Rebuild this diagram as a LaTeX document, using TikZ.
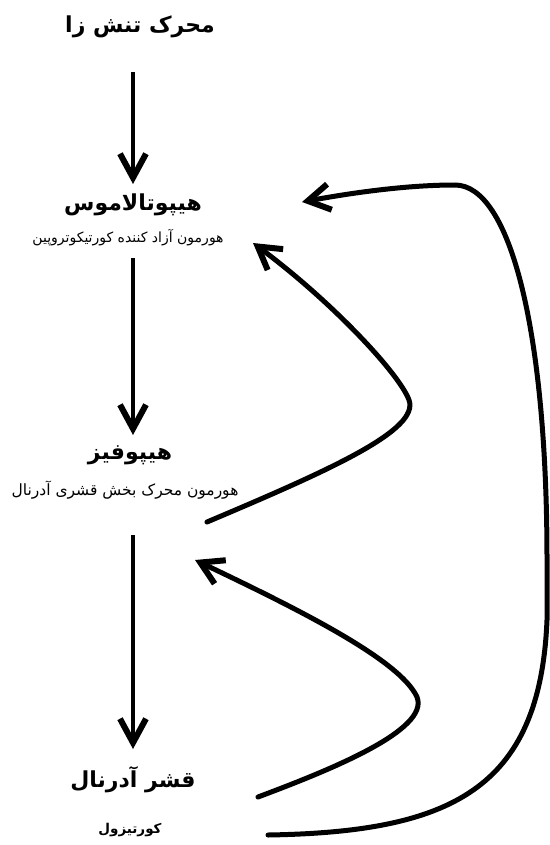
\documentclass[tikz,border=0pt]{standalone}
\usepackage{fontspec}
\newfontfamily\arabicfont[Script=Arabic]{DejaVu Sans}
\TeXXeTstate=1
\usetikzlibrary{arrows.meta}
\tikzset{
  title/.style={font=\arabicfont\bfseries\fontsize{22}{24}\selectfont, inner sep=0pt},
  sub/.style={font=\arabicfont\fontsize{14}{16}\selectfont, inner sep=0pt},
  flow/.style={line width=4.5pt, -{Straight Barb[length=24pt,width=26pt,line width=6pt]}},
  fb/.style={line width=5pt, line cap=round, -{Straight Barb[length=22pt,width=26pt,line width=6pt]}}
}
\begin{document}
\begin{tikzpicture}[x=1pt,y=-1pt]
\useasboundingbox (0,0) rectangle (549,845);
\node[title] (n0) at (140,27) {\beginR محرک تنش زا\endR};
\node[title] (n1) at (133,205) {\beginR هیپوتالاموس\endR};
\node[sub] (h1) at (128,238) {\beginR هورمون آزاد کننده کورتیکوتروپین\endR};
\node[title] (n2) at (130,455) {\beginR هیپوفیز\endR};
\node[sub,font=\arabicfont\fontsize{15.5}{17}\selectfont] (h2) at (125,490) {\beginR هورمون محرک بخش قشری آدرنال\endR};
\node[title] (n3) at (133,780) {\beginR قشر آدرنال\endR};
\node[sub,font=\arabicfont\bfseries\fontsize{13.5}{15}\selectfont] (h3) at (130,830) {\beginR کورتیزول\endR};
% arrow end points
\coordinate (a1s) at (133,72);  \coordinate (a1e) at (133,184);
\coordinate (a2s) at (133,258); \coordinate (a2e) at (133,435);
\coordinate (a3s) at (133,535); \coordinate (a3e) at (133,749);
\draw[flow] (a1s) -- (a1e);
\draw[flow] (a2s) -- (a2e);
\draw[flow] (a3s) -- (a3e);
% feedback curves
\coordinate (fAs) at (207,522); \coordinate (fAe) at (253,243);
\coordinate (fBs) at (258,797); \coordinate (fBe) at (195,560);
\coordinate (fCs) at (268,835); \coordinate (fCe) at (302,202);
\draw[fb] (fAs) .. controls (330,470) and (420,430) .. (409,400)
  .. controls (399,373) and (330,300) .. (fAe);
\draw[fb] (fBs) .. controls (330,770) and (430,730) .. (417,697)
  .. controls (400,660) and (300,610) .. (fBe);
\draw[fb] (fCs) .. controls (450,832) and (540,790) .. (547,620)
  -- (547,560) .. controls (547,330) and (510,185) .. (455,185)
  .. controls (400,185) and (340,195) .. (fCe);
\end{tikzpicture}
\end{document}
